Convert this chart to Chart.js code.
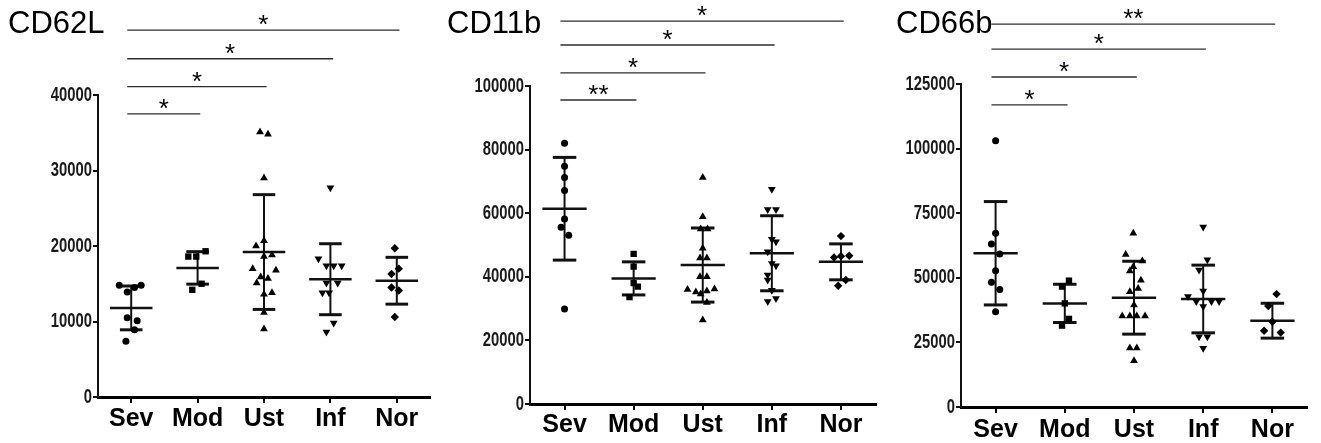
<!DOCTYPE html>
<html><head><meta charset="utf-8">
<script src="https://cdn.jsdelivr.net/npm/chart.js@4.4.1/dist/chart.umd.min.js"></script>
<style>
html,body{margin:0;padding:0;background:#fff;width:1321px;height:443px;overflow:hidden}
canvas{position:absolute;top:0}
</style></head><body>
<canvas id="c1" width="440" height="443" style="left:0px"></canvas>
<canvas id="c2" width="440" height="443" style="left:440px"></canvas>
<canvas id="c3" width="441" height="443" style="left:880px"></canvas>
<script>
const categories = ['Sev','Mod','Ust','Inf','Nor'];
const pointShapes = ['circle','rect','triangle','triangle','rectRot'];
const pointRotations = [0,0,0,180,0];

// ---- CD62L ----
const cd62lTicks = [0,10000,20000,30000,40000];
const cd62lSev = [14800,13900,14500,14800,10500,10100,8900,7400];
const cd62lSevJit = [-0.18,-0.06,0.05,0.15,-0.06,0.09,0.05,-0.08];
const cd62lMod = [19300,18600,18600,15000,14200];
const cd62lModJit = [0.12,-0.14,-0.02,0.06,-0.08];
const cd62lUst = [35100,34800,29000,20700,20000,18600,18800,17000,16800,15900,15700,15100,13600,13800,11200,9000];
const cd62lUstJit = [-0.06,0.06,0,0,-0.12,0,0.12,-0.17,0.18,-0.05,0.06,-0.11,0,0.12,0,0];
const cd62lInf = [27700,18300,17400,17400,17400,15100,15100,13800,13800,9800,8600];
const cd62lInfJit = [0,-0.18,-0.06,0.05,0.17,-0.06,0.11,-0.12,-0.02,0.05,-0.06];
const cd62lNor = [19700,17000,16300,14500,14100,10600];
const cd62lNorJit = [-0.03,0.03,-0.08,-0.08,0.03,-0.03];
const cd62lMeans = [11800,17100,19200,15600,15400];
const cd62lSD = [2900,2150,7600,4700,3100];
const cd62lBrackets = [[0,4,48600,'*'],[0,3,44800,'*'],[0,2,41100,'*'],[0,1,37500,'*']];

// ---- CD11b ----
const cd11bTicks = [0,20000,40000,60000,80000,100000];
const cd11bSev = [82000,74800,71200,67100,58200,55600,53100,29900];
const cd11bSevJit = [0,0,0,0,0,-0.05,0.06,0];
const cd11bMod = [47200,43200,38000,36900,33600];
const cd11bModJit = [0,0,0,0.06,-0.06];
const cd11bUst = [71200,58900,55000,55000,49000,45900,45900,40000,40000,36000,35200,34600,35500,36200,31900,26400];
const cd11bUstJit = [0,0,-0.03,0.07,0,-0.04,0.06,-0.04,0.06,-0.22,-0.1,-0.03,0.06,0.17,0.06,0];
const cd11bInf = [67500,61200,61200,51800,51000,47900,44200,43500,40600,39000,35800,33200,32200];
const cd11bInfJit = [0,-0.06,0.06,0,0.06,-0.06,0,0.06,-0.06,-0.06,0,0.06,-0.06];
const cd11bNor = [52800,46100,46500,46600,39000,37200];
const cd11bNorJit = [0,-0.1,0,0.12,0.07,-0.04];
const cd11bMeans = [61400,39500,43700,47400,44700];
const cd11bSD = [16150,5200,11650,11800,5650];
const cd11bBrackets = [[0,4,120400,'*'],[0,3,112900,'*'],[0,2,104100,'*'],[0,1,95600,'**']];

// ---- CD66b ----
const cd66bTicks = [0,25000,50000,75000,100000,125000];
const cd66bSev = [103000,67200,63100,59200,52700,48300,45500,36900];
const cd66bSevJit = [0,0,-0.06,0.06,0,-0.06,0.06,0];
const cd66bMod = [48900,46600,40100,34100,31500];
const cd66bModJit = [0.06,-0.04,0,0.06,-0.04];
const cd66bUst = [67200,59000,56500,54300,52600,49100,45900,44600,39500,35200,35200,35200,35200,22800,22800,17900];
const cd66bUstJit = [-0.01,-0.12,0.12,-0.01,-0.06,0.1,0.06,-0.06,0,-0.17,-0.06,0.04,0.16,-0.06,0.04,0];
const cd66bInf = [69700,57000,53000,44900,42800,40800,40800,40800,38900,27200,27200,22700];
const cd66bInfJit = [0,0.06,-0.06,0,-0.22,-0.1,0.12,0.23,0,-0.06,0.06,0];
const cd66bNor = [43700,39100,33000,29500,28800];
const cd66bNorJit = [0.06,-0.06,0,-0.12,0.12];
const cd66bMeans = [59500,40100,42300,41800,33400];
const cd66bSD = [20000,7400,14100,13100,6750];
const cd66bBrackets = [[0,4,148200,'**'],[0,3,138500,'*'],[0,2,127700,'*'],[0,1,116900,'*']];

const FONT = 'Arial, "Liberation Sans", sans-serif';

const overlay = {
  id: 'overlay',
  beforeDatasetsDraw(chart) {
    const o = chart.options.plugins.overlay;
    const {ctx, scales:{x, y}} = chart;
    ctx.save();
    ctx.strokeStyle = '#111';
    ctx.lineCap = 'butt';
    o.means.forEach((m, i) => {
      const sd = o.sds[i];
      const cx = x.getPixelForValue(i);
      const yt = y.getPixelForValue(m + sd), yb = y.getPixelForValue(m - sd), ym = y.getPixelForValue(m);
      ctx.lineWidth = 2;
      ctx.beginPath(); ctx.moveTo(cx, yt); ctx.lineTo(cx, yb); ctx.stroke();
      ctx.lineWidth = 3;
      [yt, yb].forEach(yy => {
        ctx.beginPath();
        ctx.moveTo(x.getPixelForValue(i - 0.17), yy);
        ctx.lineTo(x.getPixelForValue(i + 0.17), yy);
        ctx.stroke();
      });
      ctx.lineWidth = 2.5;
      ctx.beginPath();
      ctx.moveTo(x.getPixelForValue(i - 0.32), ym);
      ctx.lineTo(x.getPixelForValue(i + 0.32), ym);
      ctx.stroke();
    });
    ctx.restore();
  },
  afterDraw(chart) {
    const o = chart.options.plugins.overlay;
    const {ctx, scales:{x, y}} = chart;
    ctx.save();
    // condensed y tick labels
    ctx.fillStyle = '#1a1a1a';
    ctx.font = 'bold 20px ' + FONT;
    ctx.textAlign = 'right';
    ctx.textBaseline = 'middle';
    y.ticks.forEach(t => {
      const py = y.getPixelForValue(t.value);
      ctx.save();
      ctx.translate(chart.chartArea.left - 6, py);
      ctx.scale(0.74, 1);
      ctx.fillText(String(t.value), 0, 0);
      ctx.restore();
    });
    // title
    ctx.fillStyle = '#000';
    ctx.font = '31px ' + FONT;
    ctx.textBaseline = 'alphabetic';
    ctx.textAlign = 'left';
    ctx.fillText(o.title, o.titleX, 33);
    // significance brackets
    ctx.strokeStyle = '#2b2b3a';
    ctx.lineWidth = 1.3;
    ctx.font = '26px ' + FONT;
    ctx.textAlign = 'center';
    o.brackets.forEach(([a, b, v, lab]) => {
      const x1 = x.getPixelForValue(a - 0.06), x2 = x.getPixelForValue(b + 0.04);
      const yy = y.getPixelForValue(v);
      ctx.beginPath(); ctx.moveTo(x1, yy); ctx.lineTo(x2, yy); ctx.stroke();
      const m = ctx.measureText(lab);
      const inkCenter = (m.actualBoundingBoxAscent - m.actualBoundingBoxDescent) / 2;
      ctx.fillText(lab, (x1 + x2) / 2, yy - 10 + inkCenter);
    });
    ctx.restore();
  }
};

function makePanel(id, cfg) {
  const groups = cfg.groups;
  const datasets = groups.map((g, i) => ({
    label: categories[i],
    data: g.values.map((v, k) => ({x: i + g.jitter[k], y: v})),
    pointStyle: pointShapes[i],
    rotation: pointRotations[i],
    pointRadius: i === 0 ? 3.5 : (i === 4 ? 4.2 : 4.5),
    backgroundColor: '#000',
    borderColor: '#000',
    borderWidth: 0,
    showLine: false
  }));
  new Chart(document.getElementById(id), {
    type: 'scatter',
    data: {datasets},
    options: {
      responsive: false,
      animation: false,
      events: [],
      layout: {padding: {left: 0, right: cfg.padRight, top: cfg.padTop, bottom: 0}},
      plugins: {
        legend: {display: false},
        tooltip: {enabled: false},
        overlay: {means: cfg.means, sds: cfg.sds, brackets: cfg.brackets, title: cfg.title, titleX: cfg.titleX}
      },
      scales: {
        x: {
          type: 'linear', min: -0.5, max: 4.5,
          afterBuildTicks: s => { s.ticks = categories.map((c, i) => ({value: i})); },
          afterFit: s => { s.height = cfg.xHeight; },
          ticks: {callback: v => categories[v], color: '#000', padding: cfg.xPad,
                  font: {family: FONT, size: 25, weight: 'bold'}, maxRotation: 0, autoSkip: false},
          grid: {drawOnChartArea: false, drawTicks: true, tickLength: 6, color: '#000', lineWidth: 2},
          border: {display: true, color: '#000', width: 3}
        },
        y: {
          type: 'linear', min: 0, max: cfg.ticks[cfg.ticks.length - 1],
          afterBuildTicks: s => { s.ticks = cfg.ticks.map(v => ({value: v})); },
          afterFit: s => { s.width = cfg.yWidth; },
          ticks: {display: false},
          grid: {drawOnChartArea: false, drawTicks: true, tickLength: 5, color: '#111', lineWidth: 2},
          border: {display: true, color: '#111', width: 2}
        }
      }
    },
    plugins: [overlay]
  });
}

makePanel('c1', {
  title: 'CD62L', titleX: 8, ticks: cd62lTicks,
  groups: [
    {values: cd62lSev, jitter: cd62lSevJit}, {values: cd62lMod, jitter: cd62lModJit},
    {values: cd62lUst, jitter: cd62lUstJit}, {values: cd62lInf, jitter: cd62lInfJit},
    {values: cd62lNor, jitter: cd62lNorJit}],
  means: cd62lMeans, sds: cd62lSD, brackets: cd62lBrackets,
  yWidth: 98, padRight: 10, padTop: 95, xHeight: 46, xPad: 1
});
makePanel('c2', {
  title: 'CD11b', titleX: 7, ticks: cd11bTicks,
  groups: [
    {values: cd11bSev, jitter: cd11bSevJit}, {values: cd11bMod, jitter: cd11bModJit},
    {values: cd11bUst, jitter: cd11bUstJit}, {values: cd11bInf, jitter: cd11bInfJit},
    {values: cd11bNor, jitter: cd11bNorJit}],
  means: cd11bMeans, sds: cd11bSD, brackets: cd11bBrackets,
  yWidth: 90, padRight: 3, padTop: 86, xHeight: 39, xPad: 0
});
makePanel('c3', {
  title: 'CD66b', titleX: 16, ticks: cd66bTicks,
  groups: [
    {values: cd66bSev, jitter: cd66bSevJit}, {values: cd66bMod, jitter: cd66bModJit},
    {values: cd66bUst, jitter: cd66bUstJit}, {values: cd66bInf, jitter: cd66bInfJit},
    {values: cd66bNor, jitter: cd66bNorJit}],
  means: cd66bMeans, sds: cd66bSD, brackets: cd66bBrackets,
  yWidth: 81, padRight: 14, padTop: 84, xHeight: 36, xPad: 2
});
</script>
</body></html>
